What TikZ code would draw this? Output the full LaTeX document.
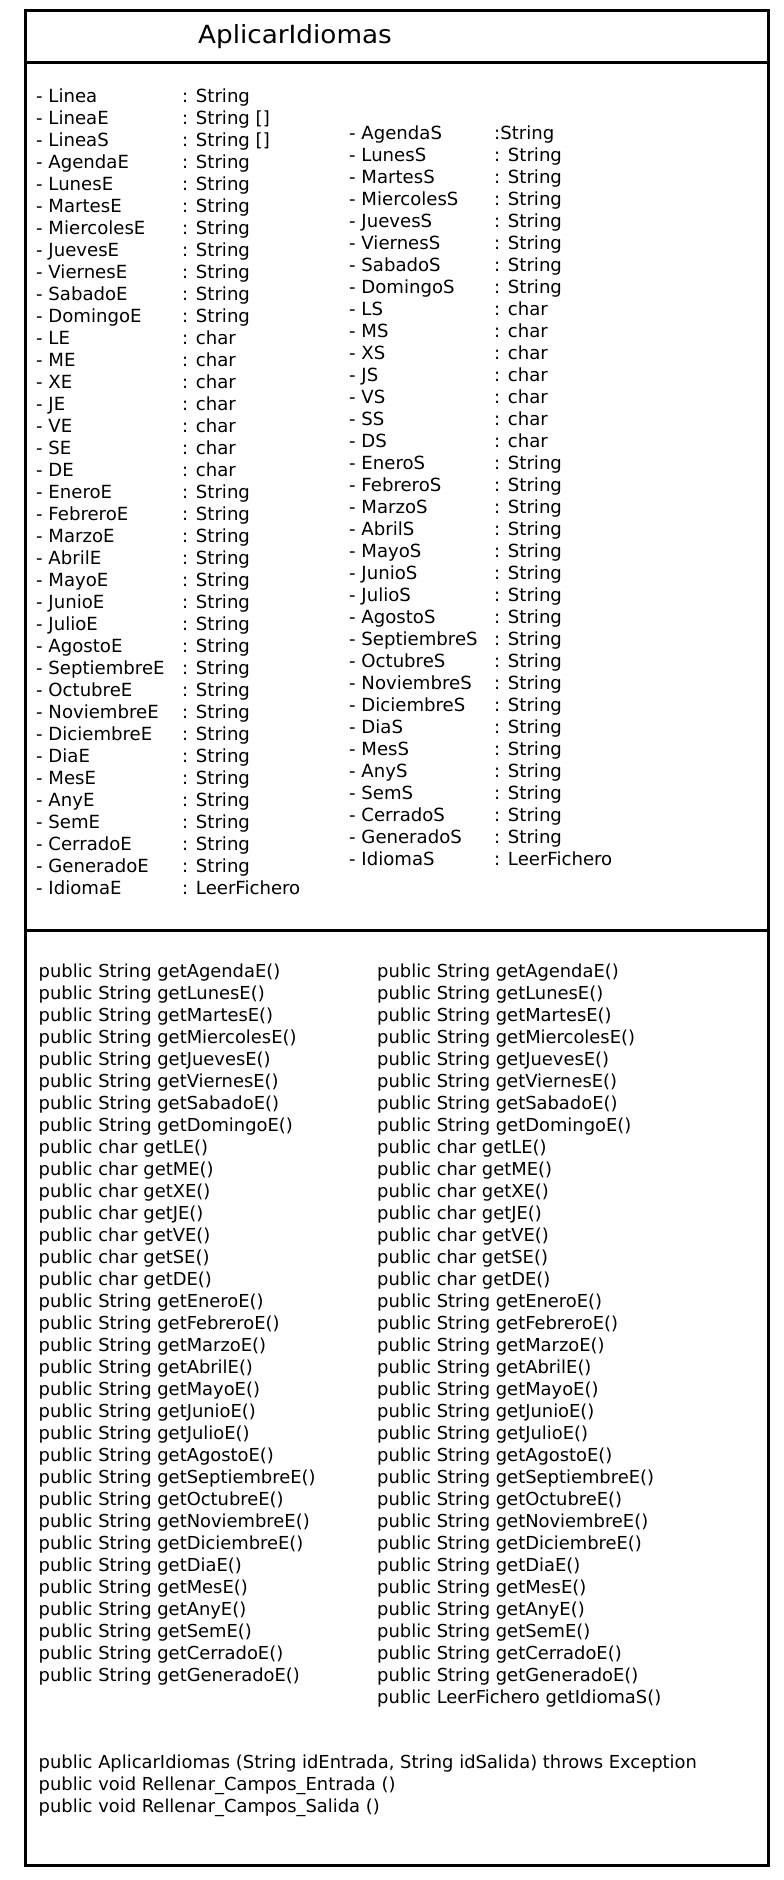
\documentclass[tikz,border=0pt]{standalone}
\usepackage{fontspec}
\setmainfont{DejaVu Sans}
\begin{document}
\begin{tikzpicture}[x=1bp,y=-1bp,
  frame/.style={line width=3bp},
  attr/.style={anchor=base west, inner sep=0pt, font=\fontsize{18.1bp}{22bp}\selectfont},
  meth/.style={anchor=base west, inner sep=0pt, font=\fontsize{17.9bp}{22bp}\selectfont},
  classname/.style={anchor=base west, inner sep=0pt, font=\fontsize{25bp}{30bp}\selectfont}]
\useasboundingbox (0,0) rectangle (784,1880);

% class box and compartments
\draw[frame] (25,10) rectangle (768,1865);
\draw[frame] (25,62) -- (768,62);
\draw[frame] (25,930) -- (768,930);

% class name
\node[classname] (title) at (198,43) {\scalebox{1.05}[1]{AplicarIdiomas}};

% input attributes
\foreach \n/\t [count=\i from 0] in {
  Linea/{: String},LineaE/{: String []},LineaS/{: String []},
  AgendaE/{: String},LunesE/{: String},MartesE/{: String},MiercolesE/{: String},
  JuevesE/{: String},ViernesE/{: String},SabadoE/{: String},DomingoE/{: String},
  LE/{: char},ME/{: char},XE/{: char},JE/{: char},VE/{: char},SE/{: char},DE/{: char},
  EneroE/{: String},FebreroE/{: String},MarzoE/{: String},AbrilE/{: String},
  MayoE/{: String},JunioE/{: String},JulioE/{: String},AgostoE/{: String},
  SeptiembreE/{: String},OctubreE/{: String},NoviembreE/{: String},DiciembreE/{: String},
  DiaE/{: String},MesE/{: String},AnyE/{: String},SemE/{: String},
  CerradoE/{: String},GeneradoE/{: String},IdiomaE/{: LeerFichero}}
{
  \node[attr] (in\i) at (36,{102.7+22*\i}) {- \n};
  \node[attr] (it\i) at (182,{102.7+22*\i}) {\t};
}

% output attributes
\foreach \n/\t [count=\i from 0] in {
  AgendaS/{:String},LunesS/{: String},MartesS/{: String},MiercolesS/{: String},
  JuevesS/{: String},ViernesS/{: String},SabadoS/{: String},DomingoS/{: String},
  LS/{: char},MS/{: char},XS/{: char},JS/{: char},VS/{: char},SS/{: char},DS/{: char},
  EneroS/{: String},FebreroS/{: String},MarzoS/{: String},AbrilS/{: String},
  MayoS/{: String},JunioS/{: String},JulioS/{: String},AgostoS/{: String},
  SeptiembreS/{: String},OctubreS/{: String},NoviembreS/{: String},DiciembreS/{: String},
  DiaS/{: String},MesS/{: String},AnyS/{: String},SemS/{: String},
  CerradoS/{: String},GeneradoS/{: String},IdiomaS/{: LeerFichero}}
{
  \node[attr] (on\i) at (349,{139.3+22*\i}) {- \n};
  \node[attr] (ot\i) at (494,{139.3+22*\i}) {\t};
}

% getters, two columns
\foreach \m [count=\i from 0] in {
  public String getAgendaE(),public String getLunesE(),public String getMartesE(),
  public String getMiercolesE(),public String getJuevesE(),public String getViernesE(),
  public String getSabadoE(),public String getDomingoE(),
  public char getLE(),public char getME(),public char getXE(),public char getJE(),
  public char getVE(),public char getSE(),public char getDE(),
  public String getEneroE(),public String getFebreroE(),public String getMarzoE(),
  public String getAbrilE(),public String getMayoE(),public String getJunioE(),
  public String getJulioE(),public String getAgostoE(),public String getSeptiembreE(),
  public String getOctubreE(),public String getNoviembreE(),public String getDiciembreE(),
  public String getDiaE(),public String getMesE(),public String getAnyE(),
  public String getSemE(),public String getCerradoE(),public String getGeneradoE()}
{
  \node[meth] (ml\i) at (38.5,{977.7+22*\i}) {\m};
  \node[meth] (mr\i) at (377,{977.7+22*\i}) {\m};
}
\node[meth] (mr33) at (377,1703.7) {public LeerFichero getIdiomaS()};

% constructor and fill methods
\node[meth] (ctor) at (38.5,1768) {public AplicarIdiomas (String idEntrada, String idSalida) throws Exception};
\node[meth] (fillin) at (38.5,1790) {public void Rellenar\_Campos\_Entrada ()};
\node[meth] (fillout) at (38.5,1812) {public void Rellenar\_Campos\_Salida ()};
\end{tikzpicture}
\end{document}
